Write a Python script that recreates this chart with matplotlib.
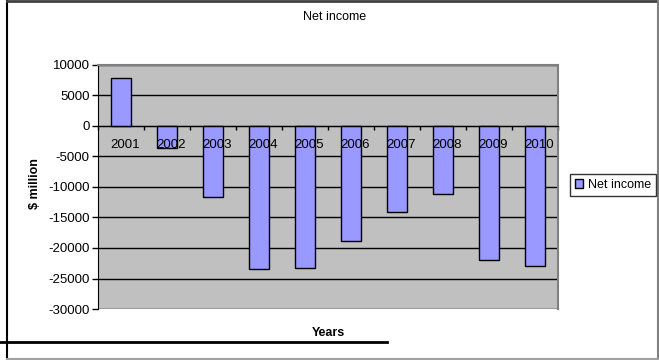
import matplotlib.pyplot as plt
from matplotlib.lines import Line2D
from matplotlib.ticker import FixedLocator

plt.rcParams['font.family'] = ['Liberation Sans', 'DejaVu Sans']

years = ['2001', '2002', '2003', '2004', '2005', '2006', '2007', '2008', '2009', '2010']
net_income = [7800, -3600, -11600, -23500, -23200, -18800, -14100, -11200, -22000, -22900]
y_ticks = [10000, 5000, 0, -5000, -10000, -15000, -20000, -25000, -30000]

W, H = 659, 360
fig = plt.figure(figsize=(W / 100, H / 100), dpi=100)
ax = fig.add_axes([98 / W, 1 - 309 / H, 460 / W, 244 / H])
ax.set_facecolor('#C0C0C0')

x = list(range(len(years)))
ax.bar(x, net_income, width=0.42, color='#9999FF', edgecolor='black', linewidth=1, zorder=3, label='Net income')

ax.set_xlim(-0.5, len(years) - 0.5)
ax.set_ylim(-30000, 10000)
ax.set_yticks(y_ticks)
ax.set_yticklabels([str(v) for v in y_ticks], fontsize=9.5)
ax.yaxis.grid(True, color='black', linewidth=1, zorder=1)
ax.set_axisbelow(True)
ax.tick_params(axis='y', length=4, width=1, color='black', pad=2)

# category axis crosses at zero, labels drawn over the bars
ax.spines['bottom'].set_position(('data', 0))
ax.spines['bottom'].set_color('black')
ax.spines['bottom'].set_zorder(4)
ax.set_xticks(x)
ax.set_xticklabels([])
ax.tick_params(axis='x', which='major', length=0)
ax.xaxis.set_minor_locator(FixedLocator([i - 0.5 for i in range(len(years) + 1)]))
ax.tick_params(axis='x', which='minor', length=3, width=1, color='black', direction='out')
for i, yr in enumerate(years):
    ax.annotate(yr, (i, 0), xytext=(3, -9.5), textcoords='offset points', ha='center', va='top',
                fontsize=9.5, zorder=5)

ax.spines['left'].set_color('black')
for s in ['top', 'right']:
    ax.spines[s].set_color('#808080')
    ax.spines[s].set_linewidth(1.5)

fig.text(335 / W, 1 - 17 / H, 'Net income', ha='center', va='center', fontsize=9)
fig.text(35 / W, 1 - 184 / H, '$ million', ha='center', va='center', rotation=90, fontsize=9, fontweight='bold')
fig.text(328 / W, 1 - 333 / H, 'Years', ha='center', va='center', fontsize=9, fontweight='bold')

leg = fig.legend(loc='center', bbox_to_anchor=(613 / W, 1 - 185 / H), fontsize=9, frameon=True,
                 fancybox=False, edgecolor='black', handlelength=0.7, handleheight=0.7,
                 handletextpad=0.4, borderpad=0.4, borderaxespad=0)
leg.get_frame().set_linewidth(1)

# outer chart border
fig.add_artist(Line2D([7 / W, 7 / W], [0, 1], transform=fig.transFigure, color='black', lw=1.5))
fig.add_artist(Line2D([7 / W, 1], [1 - 1 / H, 1 - 1 / H], transform=fig.transFigure, color='#404040', lw=2))
fig.add_artist(Line2D([658 / W, 658 / W], [0, 1], transform=fig.transFigure, color='#808080', lw=1.5))
fig.add_artist(Line2D([7 / W, 1], [1 / H, 1 / H], transform=fig.transFigure, color='#A0A0A0', lw=1.5))
fig.add_artist(Line2D([0, 387 / W], [1 - 342 / H, 1 - 342 / H], transform=fig.transFigure, color='black', lw=2))

fig.savefig('out.png', dpi=100)
